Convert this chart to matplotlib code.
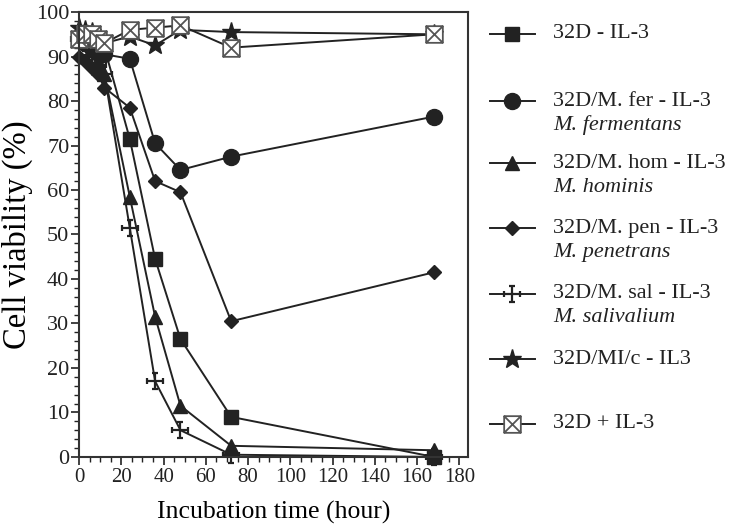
import numpy as np
import matplotlib
matplotlib.use("Agg")
import matplotlib.pyplot as plt
from matplotlib.path import Path
from matplotlib.ticker import MultipleLocator

plt.rcParams['font.family'] = ['Liberation Serif', 'DejaVu Serif']

# Данные: время инкубации (ч) и жизнеспособность клеток (%)
hours = [0, 3, 6, 9, 12, 24, 36, 48, 72, 168]
il3_minus = [94, 95, 94, 93, 92, 71.5, 44.5, 26.5, 9, 0]
fer = [94, 93, 92, 91, 90.5, 89.5, 70.5, 64.5, 67.5, 76.5]
hom = [95, 94, 92, 89, 86, 58.5, 31.5, 11.5, 2.5, 1.5]
pen = [90, 89, 87.5, 86, 83, 78.5, 62, 59.5, 30.5, 41.5]
sal = [94, 93, 90, 88, 86, 51.5, 17, 6, 0.5, 0]
mic = [96.5, 96, 95.5, 94, 93, 94.5, 92.5, 96, 95.5, 95]
il3_plus = [94, 95, 95, 94, 93, 96, 96.5, 97, 92, 95]

labels = ['32D - IL-3', '32D/M. fer - IL-3', '32D/M. hom - IL-3', '32D/M. pen - IL-3',
          '32D/M. sal - IL-3', '32D/MI/c - IL3', '32D + IL-3']
species = [None, 'M. fermentans', 'M. hominis', 'M. penetrans', 'M. salivalium', None, None]

# Нестандартные маркеры: крест с засечками и квадрат с крестом
c = Path.MOVETO
l = Path.LINETO
cross_path = Path(
    [(-1, 0), (1, 0), (0, -1), (0, 1),
     (-1, -0.35), (-1, 0.35), (1, -0.35), (1, 0.35),
     (-0.35, -1), (0.35, -1), (-0.35, 1), (0.35, 1)],
    [c, l, c, l, c, l, c, l, c, l, c, l])
box_x_path = Path(
    [(-1, -1), (1, -1), (1, 1), (-1, 1), (-1, -1),
     (-1, -1), (1, 1), (-1, 1), (1, -1)],
    [c, l, l, l, Path.CLOSEPOLY, c, l, c, l])

col = '#222222'
styles = [
    dict(marker='s', ms=10.5, mfc=col),
    dict(marker='o', ms=11.5, mfc=col),
    dict(marker='^', ms=10.5, mfc=col),
    dict(marker='D', ms=7.5, mfc=col),
    dict(marker=cross_path, ms=11, mfc='none', mew=1.6),
    dict(marker='*', ms=14, mfc=col),
    dict(marker=box_x_path, ms=12, mfc='white', mec='#555555', mew=1.3),
]
series = [il3_minus, fer, hom, pen, sal, mic, il3_plus]

fig = plt.figure(figsize=(7.39, 5.24), dpi=100)
ax = fig.add_axes([0.107, 0.128, 0.526, 0.849])

for vals, st in zip(series, styles):
    st = dict(st)
    st.setdefault('mec', col)
    ax.plot(hours, vals, color=col, lw=1.4, clip_on=False, **st)

ax.set_xlim(0, 184)
ax.set_ylim(0, 100)
ax.set_xticks(np.arange(0, 181, 20))
ax.xaxis.set_minor_locator(MultipleLocator(5))
ax.yaxis.set_major_locator(MultipleLocator(10))
ax.yaxis.set_minor_locator(MultipleLocator(2))
ax.tick_params(which='major', direction='out', length=6, width=1.2, colors='#222222')
ax.tick_params(which='minor', direction='out', length=3.5, width=1.0, colors='#222222')
ax.tick_params(axis='x', which='major', labelsize=15, pad=2)
ax.tick_params(axis='y', which='major', labelsize=16, pad=1)
for s in ax.spines.values():
    s.set_linewidth(1.5)
    s.set_color('#333333')
ax.set_xlabel('Incubation time (hour)', fontsize=18.5)
ax.xaxis.set_label_coords(0.5, -0.098)
ax.set_ylabel('Cell viability (%)', fontsize=23.5)
ax.yaxis.set_label_coords(-0.118, 0.5)

# Легенда справа (вручную, в пикселях рисунка)
lax = fig.add_axes([0, 0, 1, 1], facecolor='none')
lax.set_xlim(0, 739)
lax.set_ylim(524, 0)
lax.axis('off')
leg_y = [34, 101, 163, 228, 294, 359, 424]
for y, lab, sp, st in zip(leg_y, labels, species, styles):
    st = dict(st)
    st.setdefault('mec', col)
    lax.plot([490, 535], [y, y], color=col, lw=1.4)
    lax.plot([512], [y], color=col, **st)
    lax.text(553, y, lab, fontsize=16, va='center', ha='left', color='#222222')
    if sp:
        lax.text(553, y + 24, sp, fontsize=16, va='center', ha='left',
                 style='italic', color='#222222')

fig.savefig('out.png', dpi=100)
